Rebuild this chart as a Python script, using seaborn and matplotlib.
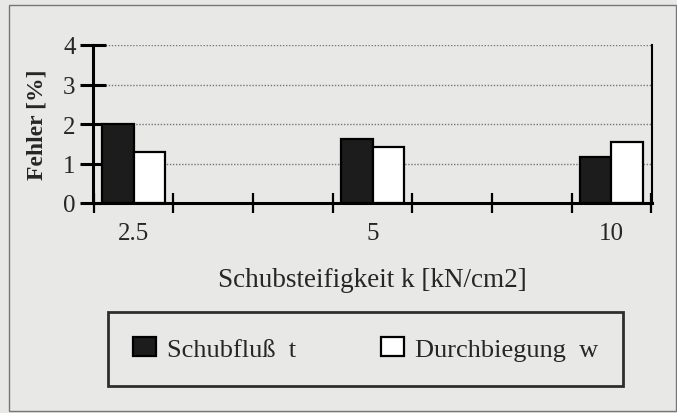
import numpy as np
import pandas as pd
import matplotlib
matplotlib.use('Agg')
import matplotlib.pyplot as plt
from matplotlib.patches import Rectangle
import seaborn as sns

# ── Data ─────────────────────────────────────────────
categories = ['2.5', '5', '10']
schubfluss = [2.00, 1.61, 1.16]
durchbiegung = [1.29, 1.42, 1.55]
series_names = ['Schubfluß  t', 'Durchbiegung  w']
y_ticks = [0, 1, 2, 3, 4]

df = pd.DataFrame({
    'k': categories * 2,
    'Fehler': schubfluss + durchbiegung,
    'Serie': [series_names[0]] * 3 + [series_names[1]] * 3,
})

bg = '#e8e8e6'
sns.set_theme(style='white')
plt.rcParams['font.family'] = ['Liberation Serif', 'DejaVu Serif']

fig = plt.figure(figsize=(6.77, 4.14), dpi=100, facecolor=bg)
ax = fig.add_axes([93 / 677, 1 - 204 / 414, (652 - 93) / 677, (204 - 46) / 414])
ax.set_facecolor(bg)

sns.barplot(data=df, x='k', y='Fehler', hue='Serie', order=categories,
            hue_order=series_names, palette=['#1c1c1c', 'white'],
            width=0.264, gap=0, edgecolor='black', linewidth=1.6,
            ax=ax, legend=True)

ax.set_xlim(-0.17, 2.17)
ax.set_ylim(0, 4)
ax.set_yticks(y_ticks)
ax.set_yticklabels([str(t) for t in y_ticks], fontsize=18)
ax.yaxis.grid(True, linestyle=(0, (1, 1.2)), color='#777777', linewidth=1.0)
ax.set_axisbelow(True)

# crossing ticks along x, labels at category centres
ax.set_xticks(np.arange(-1 / 6, 2.2, 1 / 3), minor=True)
ax.set_xticks([0, 1, 2])
ax.set_xticklabels(categories, fontsize=18)
ax.tick_params(bottom=True, left=True, which='both')
ax.tick_params(axis='x', which='major', length=0, pad=14)
ax.tick_params(axis='x', which='minor', direction='inout', length=14, width=1.6, color='black')
ax.tick_params(axis='y', direction='inout', length=19, width=2.2, color='black', pad=3)

for s in ['left', 'bottom']:
    ax.spines[s].set_linewidth(2.2)
    ax.spines[s].set_color('black')
ax.spines['right'].set_linewidth(1.5)
ax.spines['right'].set_color('black')
ax.spines['top'].set_visible(False)

ax.set_xlabel('Schubsteifigkeit k [kN/cm2]', fontsize=19.5, labelpad=16)
ax.set_ylabel('Fehler [%]', fontsize=17, fontweight='bold', labelpad=11)

handles, labels = ax.get_legend_handles_labels()
ax.get_legend().remove()
leg = fig.legend(handles, labels, loc='upper left', ncol=2,
                 bbox_to_anchor=(108 / 677, 1 - 313 / 414),
                 fontsize=19, frameon=True, fancybox=False,
                 facecolor=bg, edgecolor='black', borderpad=0.95,
                 handlelength=0.85, handleheight=0.75, handletextpad=0.42,
                 columnspacing=3.25, borderaxespad=0)
leg.get_frame().set_linewidth(2.0)

fig.patches.append(Rectangle((9 / 677, 1 - 412 / 414), (676 - 9) / 677, (412 - 6) / 414,
                             transform=fig.transFigure, fill=False,
                             edgecolor='#777777', linewidth=1.0))

plt.savefig('out.png', dpi=100, facecolor=bg)
